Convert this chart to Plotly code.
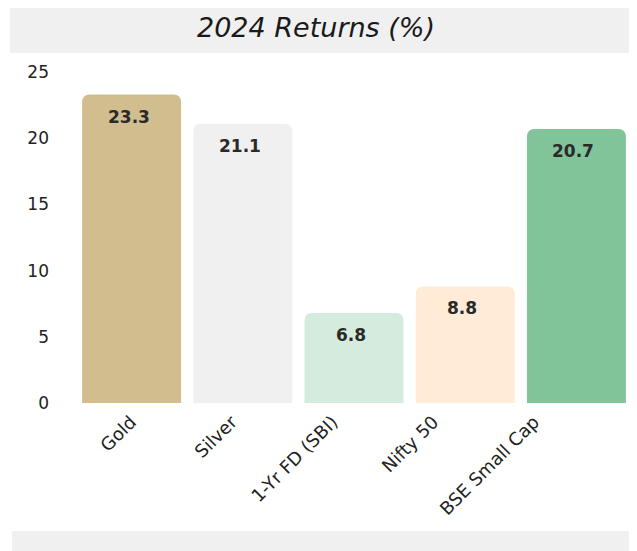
import plotly.graph_objects as go

categories = ["Gold", "Silver", "1-Yr FD (SBI)", "Nifty 50", "BSE Small Cap"]
returns = [23.3, 21.1, 6.8, 8.8, 20.7]
bar_colors = ["#D2BD8F", "#F0F0F0", "#D5EBDD", "#FFEBD6", "#82C49A"]
y_ticks = [0, 5, 10, 15, 20, 25]
title_text = "2024 Returns (%)"

FONT = "DejaVu Sans"

fig = go.Figure(
    go.Bar(
        x=categories,
        y=returns,
        marker=dict(color=bar_colors, line=dict(width=0)),
        hoverinfo="skip",
    )
)

# category labels are drawn on an overlaid axis (slightly tighter spacing, as in the source)
fig.add_trace(go.Scatter(x=[], y=[], xaxis="x2", showlegend=False, hoverinfo="skip"))

for c, v in zip(categories, returns):
    fig.add_annotation(
        x=c, y=v, text=f"<b>{v}</b>", showarrow=False,
        yanchor="middle", yshift=-22, xshift=-3,
        font=dict(family=FONT, size=17, color="#2a2a2a"),
    )

# header and footer bands
fig.add_shape(type="rect", xref="paper", yref="paper",
              x0=-0.1187, x1=1.03, y0=1.0574, y1=1.1994,
              fillcolor="#F0F0F0", line=dict(width=0), layer="below")
fig.add_shape(type="rect", xref="paper", yref="paper",
              x0=-0.115, x1=1.03, y0=-0.4471, y1=-0.3867,
              fillcolor="#F0F0F0", line=dict(width=0), layer="below")

fig.update_layout(
    width=637, height=551,
    margin=dict(l=68, r=13, t=64, b=156),
    paper_bgcolor="white", plot_bgcolor="white",
    bargap=0.11,
    barcornerradius=7,
    showlegend=False,
    title=dict(text=f"<i>{title_text}</i>", x=308 / 637, xanchor="center",
               y=1 - 20 / 551, yanchor="middle",
               font=dict(family=FONT, size=27, color="#1a1a1a")),
    font=dict(family=FONT, color="#222"),
    xaxis=dict(showticklabels=False, showgrid=False, showline=False, ticks="",
               zeroline=False),
    xaxis2=dict(overlaying="x", side="bottom", anchor="y",
                range=[-0.546, 4.973], tickvals=list(range(len(categories))),
                ticktext=categories, tickangle=-45, showgrid=False,
                showline=False, ticks="", zeroline=False, ticklabelstandoff=4,
                tickfont=dict(family=FONT, size=18, color="#222")),
)
fig.update_yaxes(range=[0, 25], tickvals=y_ticks, showgrid=False, zeroline=False,
                 showline=False, ticks="", ticklabelstandoff=26,
                 tickfont=dict(family=FONT, size=17, color="#222"))

fig.write_html("out.html")
